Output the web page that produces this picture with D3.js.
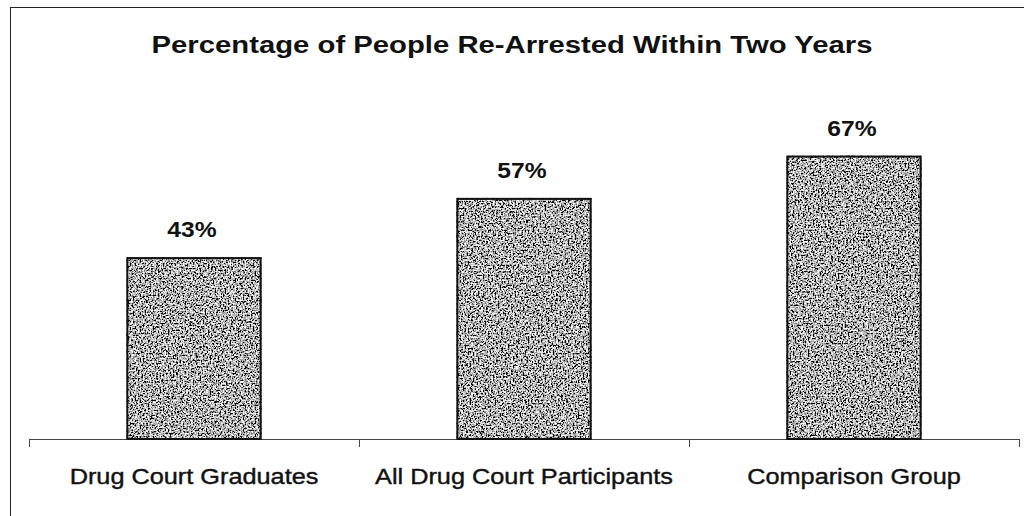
<!DOCTYPE html>
<html>
<head>
<meta charset="utf-8">
<script src="https://cdn.jsdelivr.net/npm/d3@7"></script>
<style>
  body { margin: 0; background: #fff; }
  text { font-family: "Liberation Sans", Arial, sans-serif; fill: #111; }
</style>
</head>
<body>
<div id="chart"></div>
<script>
/* Percentage of people re-arrested within two years */

const groups = ["Drug Court Graduates", "All Drug Court Participants", "Comparison Group"];
const rearrested = [43, 57, 67]; // percent
const title = "Percentage of People Re-Arrested Within Two Years";

const width = 1024,
      height = 516,
      margin = ({ top: 16, right: 5, bottom: 77, left: 29 });

let svg = d3.select("#chart")
    .append("svg")
    .attr("width", width)
    .attr("height", height);

// grainy grey fill, like the scanned original
let filter = svg.append("defs").append("filter")
    .attr("id", "stipple")
    .attr("x", 0).attr("y", 0).attr("width", 1).attr("height", 1);
filter.append("feTurbulence")
    .attr("type", "fractalNoise")
    .attr("baseFrequency", 0.6)
    .attr("numOctaves", 2)
    .attr("seed", 4)
    .attr("result", "noise");
filter.append("feColorMatrix")
    .attr("in", "noise")
    .attr("type", "matrix")
    .attr("values", "1 0 0 0 0  1 0 0 0 0  1 0 0 0 0  0 0 0 0 1")
    .attr("result", "grey");
let ct = filter.append("feComponentTransfer").attr("in", "grey").attr("result", "contrast");
["feFuncR", "feFuncG", "feFuncB"].forEach(f => {
    ct.append(f).attr("type", "linear").attr("slope", 3.4).attr("intercept", -1.25);
});
filter.append("feComposite")
    .attr("in", "contrast")
    .attr("in2", "SourceGraphic")
    .attr("operator", "in");

// outer frame (runs off the right and bottom of the scan)
svg.append("rect")
    .attr("x", 10.5).attr("y", 7.5)
    .attr("width", 1040).attr("height", 540)
    .attr("fill", "none")
    .attr("stroke", "#222");

let x = d3.scaleBand()
    .domain(groups)
    .range([margin.left, width - margin.right])
    .paddingInner(0.59)
    .paddingOuter(0.295);

let y = d3.scaleLinear()
    .domain([0, 100])
    .range([height - margin.bottom, margin.top]);

// boundary ticks between categories
let xEdge = d3.scaleLinear()
    .domain([0, groups.length])
    .range([margin.left, width - margin.right]);

svg.append("g")
    .attr("transform", `translate(0,${y(0)})`)
    .call(d3.axisBottom(xEdge).ticks(groups.length).tickSize(8).tickSizeOuter(8).tickFormat(""))
    .call(g => g.selectAll("line, path").attr("stroke", "#444"));

svg.append("g")
    .attr("class", "labels")
    .selectAll("text")
    .data(groups)
    .join("text")
    .attr("transform", d => `translate(${x(d) + x.bandwidth() / 2},${y(0) + 45}) scale(1.15,1)`)
    .attr("text-anchor", "middle")
    .style("font-size", "22px")
    .style("stroke", "#111")
    .style("stroke-width", 0.4)
    .text(d => d);

let bar = svg.selectAll(".bar")
    .data(groups)
    .join("g")
    .attr("class", "bar");

bar.append("rect")
    .attr("x", d => x(d))
    .attr("width", x.bandwidth())
    .attr("y", (d, i) => y(rearrested[i]))
    .attr("height", (d, i) => y(0) - y(rearrested[i]))
    .attr("fill", "#000")
    .attr("filter", "url(#stipple)");

bar.append("rect")
    .attr("x", d => x(d) + 1)
    .attr("width", x.bandwidth() - 2)
    .attr("y", (d, i) => y(rearrested[i]) + 1)
    .attr("height", (d, i) => y(0) - y(rearrested[i]) - 1)
    .attr("fill", "none")
    .attr("stroke", "#111")
    .attr("stroke-width", 2);

bar.append("text")
    .attr("transform", (d, i) => `translate(${x(d) + x.bandwidth() / 2 - 2},${y(rearrested[i]) - 20}) scale(1.12,1)`)
    .attr("text-anchor", "middle")
    .style("font-size", "22px")
    .style("font-weight", "bold")
    .text((d, i) => rearrested[i] + "%");

svg.append("text")
    .attr("transform", `translate(${width / 2},53) scale(1.22,1)`)
    .attr("text-anchor", "middle")
    .style("font-size", "24px")
    .style("font-weight", "bold")
    .text(title);
</script>
</body>
</html>
